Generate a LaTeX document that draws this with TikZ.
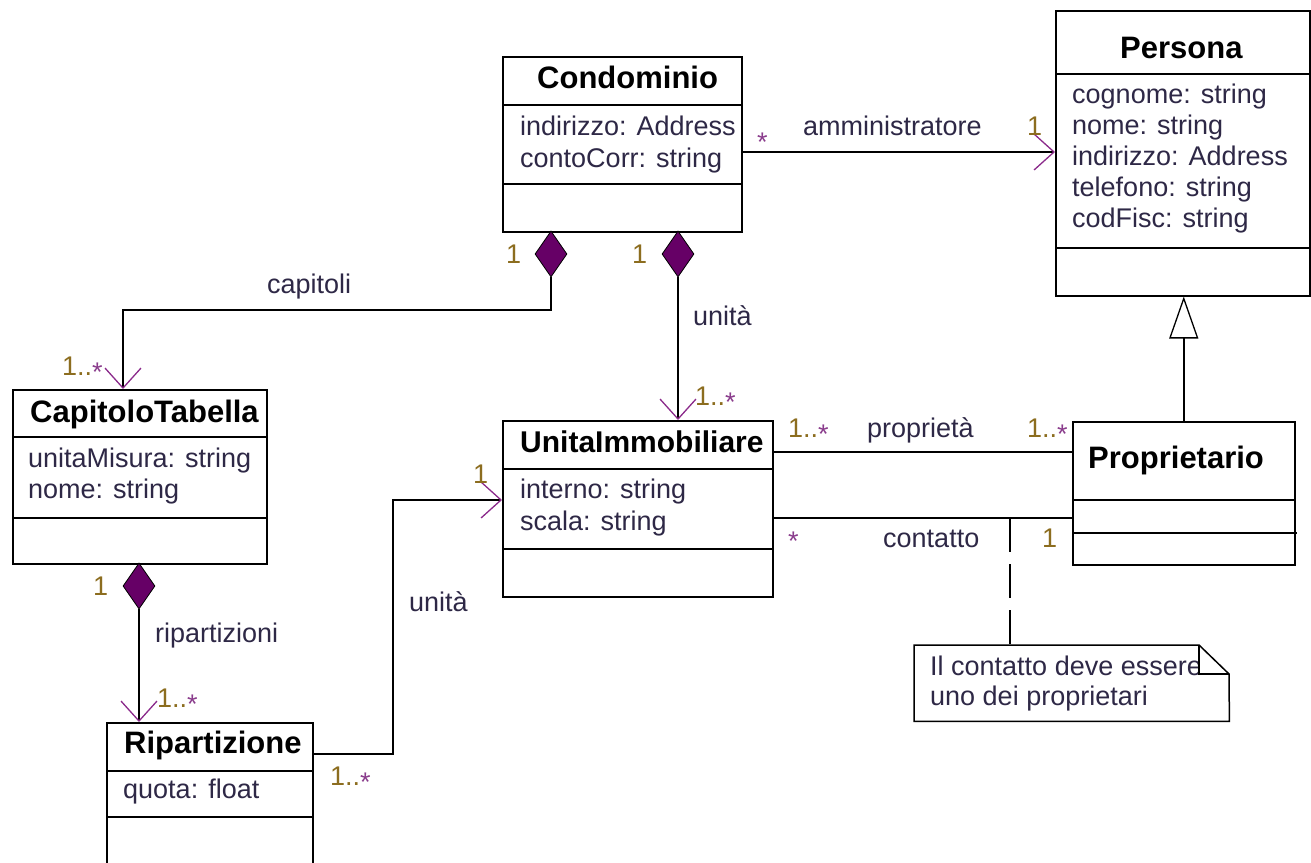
\documentclass[tikz,border=0pt]{standalone}
\usepackage{fontspec}
\setmainfont{Liberation Sans}
\usetikzlibrary{arrows.meta,shapes.geometric}

\definecolor{txt}{HTML}{2E2846}
\definecolor{multc}{HTML}{8C6D1F}
\definecolor{starc}{HTML}{8A3C8C}
\definecolor{tipc}{HTML}{8B2A8B}
\definecolor{diafill}{HTML}{660066}

% lowered asterisk used in multiplicities
\newcommand{\mstar}{\textcolor{starc}{\raisebox{-6pt}{*}}}

\begin{document}
\begin{tikzpicture}[x=1pt,y=-1pt,
  classbox/.style={draw=black, line width=1.5pt, rectangle, inner sep=0pt, anchor=north west},
  divider/.style={line width=1.5pt},
  title/.style={font=\fontsize{31}{34}\selectfont\bfseries, text=black, anchor=base west, inner sep=0pt},
  attr/.style={font=\fontsize{27}{31}\selectfont, text=txt, anchor=base west, inner sep=0pt},
  role/.style={attr},
  mult/.style={font=\fontsize{27}{31}\selectfont, text=multc, anchor=base west, inner sep=0pt},
  conn/.style={line width=1.5pt, draw=black},
  nav/.style={conn, -{Straight Barb[length=20pt, width=36pt, color=tipc, line width=1.3pt]}},
  gen/.style={conn, -{Triangle[open, length=42pt, width=29pt, line width=1.3pt]}},
  comp/.style={diamond, draw=black, line width=0.8pt, fill=diafill, minimum width=32pt, minimum height=46pt, inner sep=0pt},
  notebox/.style={line width=1.5pt}]

\clip (0,0) rectangle (1311,862);
\fill[white] (0,0) rectangle (1311,862);

% ---------- classes ----------
\node[classbox, minimum width=239pt, minimum height=175pt] (condo) at (502,56) {};
\draw[divider] (condo.west |- 0,105) -- (condo.east |- 0,105);
\draw[divider] (condo.west |- 0,184) -- (condo.east |- 0,184);
\node[title] (condoT) at (537,88) {Condominio};
\node[attr] (condoA1) at (520,135) {indirizzo: Address};
\node[attr] (condoA2) at (520,167) {contoCorr: string};

\node[classbox, minimum width=254pt, minimum height=285pt] (persona) at (1055,10) {};
\draw[divider] (persona.west |- 0,74) -- (persona.east |- 0,74);
\draw[divider] (persona.west |- 0,248) -- (persona.east |- 0,248);
\node[title] (personaT) at (1120,58) {Persona};
\node[attr] (personaA1) at (1072,103) {cognome: string};
\node[attr] (personaA2) at (1072,134) {nome: string};
\node[attr] (personaA3) at (1072,165) {indirizzo: Address};
\node[attr] (personaA4) at (1072,196) {telefono: string};
\node[attr] (personaA5) at (1072,227) {codFisc: string};

\node[classbox, minimum width=222pt, minimum height=143pt] (prop) at (1072,421) {};
\draw[divider] (prop.west |- 0,500) -- (prop.east |- 0,500);
\coordinate (propEdge) at (1297,533);
\draw[divider] (prop.west |- propEdge) -- (propEdge);
\node[title] (propT) at (1088,468) {Proprietario};

\node[classbox, minimum width=270pt, minimum height=176pt] (unita) at (502,420) {};
\draw[divider] (unita.west |- 0,469) -- (unita.east |- 0,469);
\draw[divider] (unita.west |- 0,549) -- (unita.east |- 0,549);
\node[title, font=\fontsize{30}{34}\selectfont\bfseries] (unitaT) at (520,452) {UnitaImmobiliare};
\node[attr] (unitaA1) at (520,498) {interno: string};
\node[attr] (unitaA2) at (520,530) {scala: string};

\node[classbox, minimum width=254pt, minimum height=174pt] (capT) at (12,389) {};
\draw[divider] (capT.west |- 0,437) -- (capT.east |- 0,437);
\draw[divider] (capT.west |- 0,518) -- (capT.east |- 0,518);
\node[title] (capTT) at (30,422) {CapitoloTabella};
\node[attr] (capTA1) at (28,467) {unitaMisura: string};
\node[attr] (capTA2) at (28,498) {nome: string};

\node[classbox, minimum width=206pt, minimum height=200pt] (rip) at (106,722) {};
\draw[divider] (rip.west |- 0,771) -- (rip.east |- 0,771);
\draw[divider] (rip.west |- 0,817) -- (rip.east |- 0,817);
\node[title] (ripT) at (124,753) {Ripartizione};
\node[attr] (ripA1) at (123,798) {quota: float};

% ---------- composition diamonds ----------
\node[comp] (d1) at (551,254) {};
\node[comp] (d2) at (678,254) {};
\node[comp] (d3) at (139,586) {};

% ---------- connectors ----------
\draw[nav] (condo.east |- 0,152) -- (persona.west |- 0,152);

\coordinate (bendA) at (123,310);
\draw[nav] (d1.south) |- (bendA) -- (bendA |- capT.north);

\draw[nav] (d2.south) -- (d2.south |- unita.north);

\coordinate (bendB) at (393,754);
\coordinate (bendC) at (393,500);
\draw[nav] (rip.east |- bendB) -- (bendB) -- (bendC) -- (unita.west |- bendC);

\draw[nav] (d3.south) -- (d3.south |- rip.north);

\draw[conn] (unita.east |- 0,452) -- (prop.west |- 0,452);
\draw[conn] (unita.east |- 0,518) -- (prop.west |- 0,518);

\draw[gen] (prop.north) -- (prop.north |- persona.south);

% ---------- note ----------
\node[inner sep=0pt, minimum width=315pt, minimum height=76pt, anchor=north west] (note) at (914,645) {};
\node[attr] (noteL1) at (930,675) {Il contatto deve essere};
\node[attr] (noteL2) at (930,705) {uno dei proprietari};
\coordinate (foldA) at (1199,645);
\coordinate (foldB) at (1229,674);
\fill[white] (foldA) rectangle (foldB);
\draw[notebox] (note.north west) -- (foldA) -- (foldB) -- (note.south east) -- (note.south west) -- cycle;
\draw[notebox] (foldA) -- (foldA |- foldB) -- (foldB);

\coordinate (ct) at (1010,518);
\draw[conn, dash pattern=on 34pt off 12pt] (ct) -- (ct |- note.north);

% ---------- role names ----------
\node[role] (rAmm) at (803,135) {amministratore};
\node[role] (rCap) at (267,293) {capitoli};
\node[role] (rUn1) at (693,325) {unità};
\node[role] (rUn2) at (409,611) {unità};
\node[role] (rRip) at (155,642) {ripartizioni};
\node[role] (rPro) at (867,437) {proprietà};
\node[role] (rCon) at (883,547) {contatto};

% ---------- multiplicities ----------
\node[mult] (m1) at (757,145) {\mstar};
\node[mult] (m2) at (1027,135) {1};
\node[mult] (m3) at (506,263) {1};
\node[mult] (m4) at (632,263) {1};
\node[mult] (m5) at (62,375) {1..\mstar};
\node[mult] (m6) at (695,405) {1..\mstar};
\node[mult] (m7) at (473,483) {1};
\node[mult] (m8) at (330,785) {1..\mstar};
\node[mult] (m9) at (93,595) {1};
\node[mult] (m10) at (157,707) {1..\mstar};
\node[mult] (m11) at (788,437) {1..\mstar};
\node[mult] (m12) at (1027,437) {1..\mstar};
\node[mult] (m13) at (788,544) {\mstar};
\node[mult] (m14) at (1042,547) {1};

\end{tikzpicture}
\end{document}
